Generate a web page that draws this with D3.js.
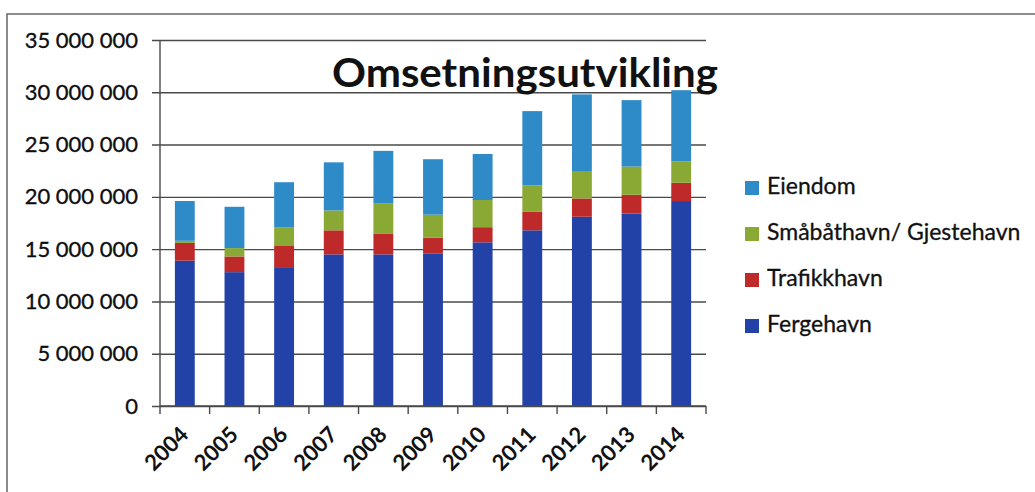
<!DOCTYPE html>
<html>
<head>
<meta charset="utf-8">
<script src="https://cdn.jsdelivr.net/npm/d3@7"></script>
<style>
  body { margin: 0; background: #fff; }
  text { font-family: Lato, "Open Sans", sans-serif; fill: #111; }
</style>
</head>
<body>
<div id="chart"></div>
<script>
// data
var years = ["2004", "2005", "2006", "2007", "2008", "2009", "2010", "2011", "2012", "2013", "2014"];
var fergehavn   = [13900000, 12800000, 13200000, 14500000, 14500000, 14600000, 15650000, 16800000, 18100000, 18400000, 19600000];
var trafikkhavn = [1700000, 1500000, 2100000, 2300000, 2000000, 1500000, 1450000, 1800000, 1750000, 1800000, 1750000];
var smabathavn  = [200000, 800000, 1800000, 1900000, 2900000, 2200000, 2600000, 2500000, 2550000, 2700000, 2050000];
var eiendom     = [3800000, 3950000, 4300000, 4600000, 5000000, 5300000, 4400000, 7100000, 7400000, 6350000, 6800000];
var seriesNames = ["Fergehavn", "Trafikkhavn", "Småbåthavn/ Gjestehavn", "Eiendom"];
var seriesColors = ["#2342a8", "#be2a29", "#8aa934", "#2f8ac8"];
var yTicks = [0, 5000000, 10000000, 15000000, 20000000, 25000000, 30000000, 35000000];

var width = 1035, height = 492;
var plot = { left: 160, right: 706, top: 40, bottom: 406 };

var rows = years.map(function (y, i) {
    return { year: y, Fergehavn: fergehavn[i], Trafikkhavn: trafikkhavn[i],
             "Småbåthavn/ Gjestehavn": smabathavn[i], Eiendom: eiendom[i] };
});

var svg = d3.select("#chart").append("svg")
    .attr("width", width)
    .attr("height", height);

// outer frame
svg.append("rect")
    .attr("x", 7).attr("y", 14)
    .attr("width", width + 10).attr("height", height)
    .attr("fill", "none")
    .attr("stroke", "#666")
    .attr("stroke-width", 1.5);

var x = d3.scaleBand()
    .domain(years)
    .range([plot.left, plot.right])
    .paddingInner(0.6)
    .paddingOuter(0.3);

var y = d3.scaleLinear()
    .domain([0, 35000000])
    .range([plot.bottom, plot.top]);

var fmt = function (v) { return d3.format(",")(v).replace(/,/g, " "); };

// gridlines + y axis
var yAxis = svg.append("g")
    .attr("transform", translate(plot.left, 0))
    .call(d3.axisLeft(y).tickValues(yTicks).tickFormat(fmt)
        .tickSize(-(plot.right - plot.left)).tickPadding(22));
yAxis.select(".domain").remove();
yAxis.selectAll(".tick line").attr("stroke", "#4a4a4a").attr("stroke-width", 1.4)
    .attr("x1", -8);
yAxis.selectAll(".tick text")
    .attr("font-size", 22)
    .attr("font-family", "Lato, sans-serif")
    .attr("fill", "#000")
    .attr("stroke", "#000")
    .attr("stroke-width", 0.3);

// vertical axis line
svg.append("line")
    .attr("x1", plot.left).attr("x2", plot.left)
    .attr("y1", plot.top).attr("y2", plot.bottom)
    .attr("stroke", "#4a4a4a").attr("stroke-width", 1.4);

// stacked bars
var stack = d3.stack().keys(seriesNames)(rows);
svg.append("g")
    .selectAll("g")
    .data(stack)
    .enter()
    .append("g")
    .attr("fill", function (d, i) { return seriesColors[i]; })
    .selectAll("rect")
    .data(function (d) { return d; })
    .enter()
    .append("rect")
    .attr("x", function (d) { return x(d.data.year); })
    .attr("width", x.bandwidth())
    .attr("y", function (d) { return y(d[1]); })
    .attr("height", function (d) { return y(d[0]) - y(d[1]); });

// x axis
var xStep = (plot.right - plot.left) / years.length;
var xAxis = svg.append("g")
    .attr("transform", translate(0, plot.bottom));
xAxis.append("line")
    .attr("x1", plot.left).attr("x2", plot.right)
    .attr("stroke", "#4a4a4a").attr("stroke-width", 1.4);
xAxis.selectAll(".xt")
    .data(d3.range(years.length + 1))
    .enter()
    .append("line")
    .attr("x1", function (i) { return plot.left + i * xStep; })
    .attr("x2", function (i) { return plot.left + i * xStep; })
    .attr("y1", 0).attr("y2", 8)
    .attr("stroke", "#4a4a4a").attr("stroke-width", 1.4);
xAxis.selectAll("text")
    .data(years)
    .enter()
    .append("text")
    .attr("transform", function (d) {
        return translate(x(d) + x.bandwidth() / 2 + 5, 30) + " rotate(-45)";
    })
    .attr("text-anchor", "end")
    .attr("font-size", 22)
    .attr("font-weight", 700)
    .text(function (d) { return d; });

// title
svg.append("text")
    .attr("x", 332).attr("y", 87)
    .attr("font-size", 40)
    .attr("font-weight", 700)
    .attr("textLength", 386)
    .attr("lengthAdjust", "spacingAndGlyphs")
    .text("Omsetningsutvikling");

// legend (reverse order, top = Eiendom)
var legendItems = seriesNames.slice().reverse();
var legend = svg.append("g")
    .attr("transform", translate(745, 181))
    .selectAll("g")
    .data(legendItems)
    .enter()
    .append("g")
    .attr("transform", function (d, i) { return translate(0, i * 46); });
legend.append("rect")
    .attr("width", 14).attr("height", 14)
    .attr("fill", function (d) { return seriesColors[seriesNames.indexOf(d)]; });
legend.append("text")
    .attr("x", 22).attr("y", 7)
    .attr("dominant-baseline", "middle")
    .attr("font-size", 23)
    .attr("stroke", "#111")
    .attr("stroke-width", 0.3)
    .text(function (d) { return d; });

function translate(a, b) {
    return "translate(" + a + "," + b + ")";
}
</script>
</body>
</html>
